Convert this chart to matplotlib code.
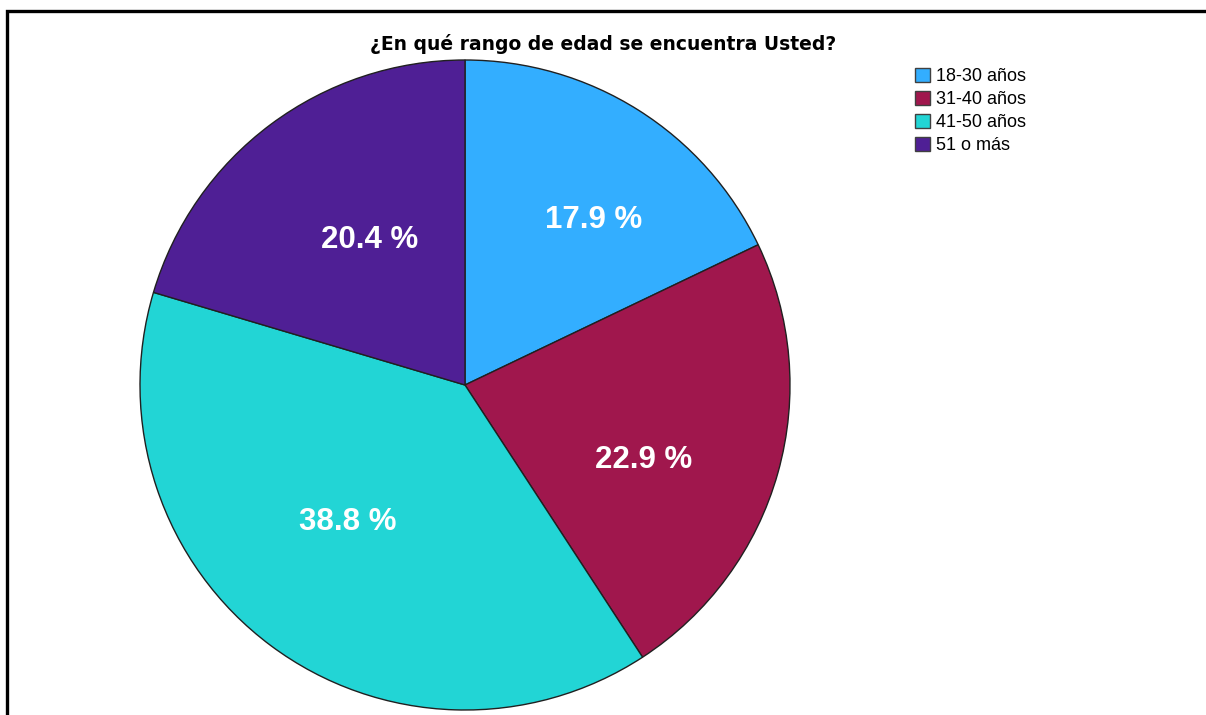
import numpy as np
import matplotlib.pyplot as plt
from matplotlib.lines import Line2D

W, H = 1206, 715

labels = ['18-30 años', '31-40 años', '41-50 años', '51 o más']
values = [17.9, 22.9, 38.8, 20.4]
colors = ['#33AEFF', '#A0174D', '#22D5D5', '#4F1F95']
# label anchor offsets from centre, in units of the radius
label_pos = [(0.397, 0.508), (0.551, -0.231), (-0.36, -0.42), (-0.292, 0.446)]

fig = plt.figure(figsize=(W / 100, H / 100), dpi=100)
fig.patch.set_facecolor('white')

# pie axes: center (465, 385) px, radius 325 px
cx, cy, r = 465, 385, 325
ax = fig.add_axes([(cx - r) / W, (H - cy - r) / H, 2 * r / W, 2 * r / H])

wedges, texts, autotexts = ax.pie(
    values, colors=colors, startangle=90, counterclock=False,
    autopct='%.1f %%', pctdistance=0.6,
    wedgeprops=dict(edgecolor='#202020', linewidth=1.0),
    textprops=dict(color='white', fontsize=22.5, fontweight='bold',
                   family='Liberation Sans'))
ax.set_aspect('auto')
ax.set_xlim(-1, 1)
ax.set_ylim(-1, 1)

for t, p in zip(autotexts, label_pos):
    t.set_position(p)

fig.text(603 / W, 1 - 44 / H, '¿En qué rango de edad se encuentra Usted?',
         ha='center', va='center', fontsize=13.5, fontweight='bold',
         family='DejaVu Sans')

leg = fig.legend(wedges, labels, loc='upper left',
                 bbox_to_anchor=(906 / W, 1 - 59 / H), frameon=False,
                 prop=dict(family='Liberation Sans', size=13),
                 handlelength=0.85, handleheight=0.85, handletextpad=0.3,
                 labelspacing=0.3, borderpad=0)
for h in leg.legend_handles:
    h.set_edgecolor('#404040')
    h.set_linewidth(1.0)

# frame lines (top and left)
fig.add_artist(Line2D([7 / W, 7 / W, 1.0], [0.0, 1 - 10.5 / H, 1 - 10.5 / H],
                      transform=fig.transFigure, color='black', linewidth=2.4,
                      solid_joinstyle='miter'))

fig.savefig('out.png', dpi=100)
